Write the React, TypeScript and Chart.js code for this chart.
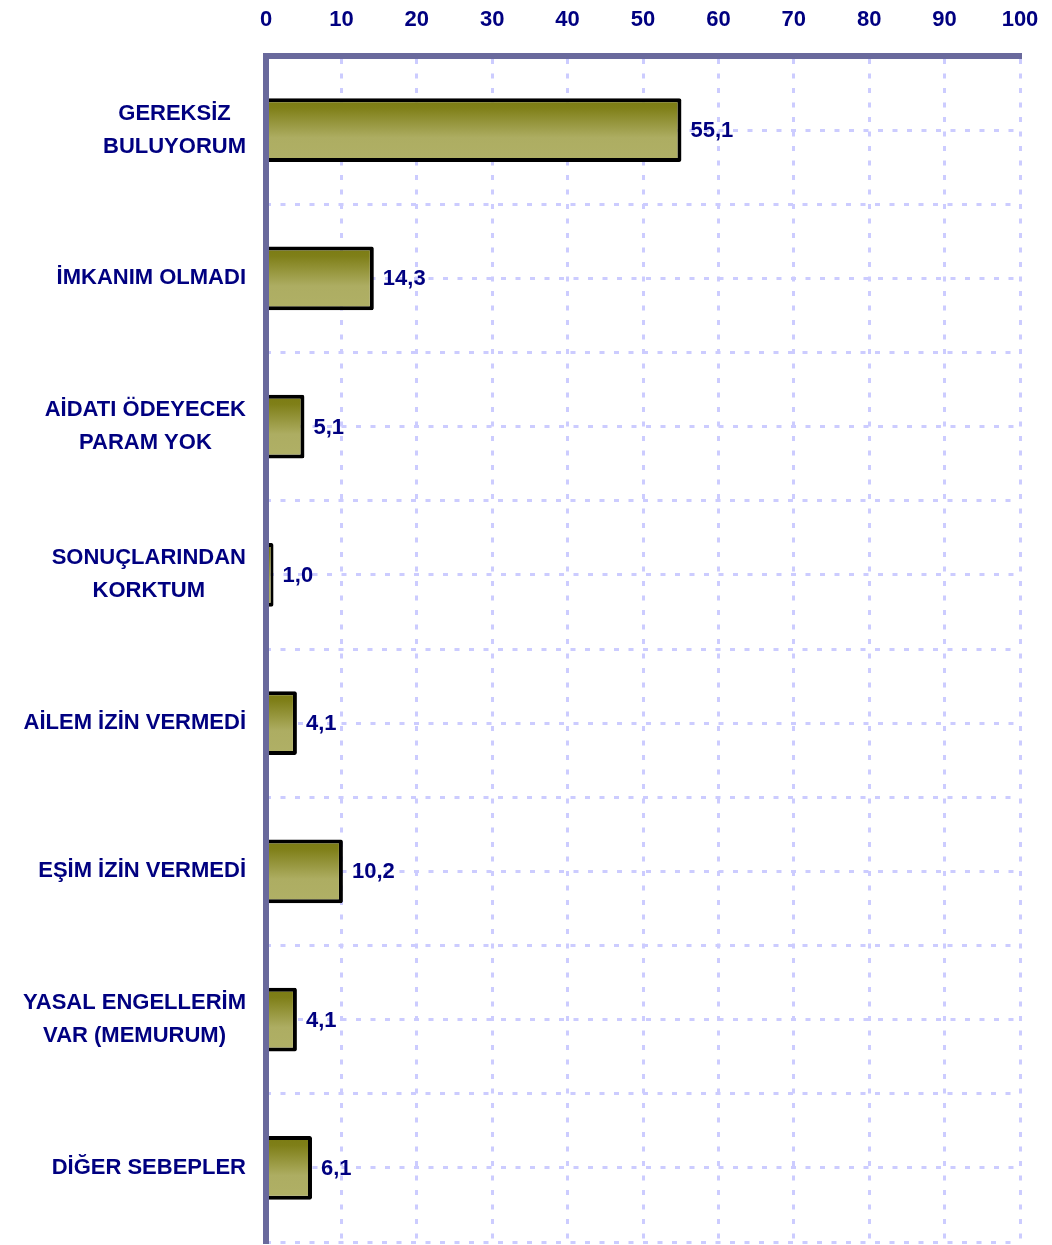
import React, { useEffect, useRef } from 'react';
import { Chart, registerables } from 'chart.js';

Chart.register(...registerables);

const categories: string[][] = [
  ['GEREKSİZ', 'BULUYORUM'],
  ['İMKANIM OLMADI'],
  ['AİDATI ÖDEYECEK', 'PARAM YOK'],
  ['SONUÇLARINDAN', 'KORKTUM'],
  ['AİLEM İZİN VERMEDİ'],
  ['EŞİM İZİN VERMEDİ'],
  ['YASAL ENGELLERİM', 'VAR (MEMURUM)'],
  ['DİĞER SEBEPLER'],
];
const values: number[] = [55.1, 14.3, 5.1, 1.0, 4.1, 10.2, 4.1, 6.1];
const xMin = 0;
const xMax = 100;
const xStep = 10;

const NAVY = '#000080';
const AXIS = '#69699c';
const GRID = '#ccccff';
const FONT = '"Liberation Sans", Arial, sans-serif';
const FONT_SIZE = 22;
const BAR_PCT = 0.43;

const fmt = (v: number) => v.toFixed(1).replace('.', ',');

const categoryLabelsPlugin = {
  id: 'categoryLabels',
  afterDraw(chart: any) {
    const ctx = chart.ctx;
    const y = chart.scales.y;
    const right = chart.chartArea.left - 20;
    const lh = 33;
    ctx.save();
    ctx.font = `bold ${FONT_SIZE}px ${FONT}`;
    ctx.fillStyle = NAVY;
    ctx.textAlign = 'center';
    ctx.textBaseline = 'middle';
    categories.forEach((lines, i) => {
      const c = y.getPixelForValue(i);
      const widest = Math.max(...lines.map((l) => ctx.measureText(l).width));
      const cx = right - widest / 2;
      lines.forEach((line, j) => {
        ctx.fillText(line, cx, c + (j - (lines.length - 1) / 2) * lh);
      });
    });
    ctx.restore();
  },
};

const valueLabelsPlugin = {
  id: 'valueLabels',
  afterDatasetsDraw(chart: any) {
    const ctx = chart.ctx;
    const meta = chart.getDatasetMeta(0);
    ctx.save();
    ctx.font = `bold ${FONT_SIZE}px ${FONT}`;
    ctx.fillStyle = NAVY;
    ctx.textAlign = 'left';
    ctx.textBaseline = 'middle';
    meta.data.forEach((el: any, i: number) => {
      ctx.fillText(fmt(values[i]), el.x + 9, el.y + 1);
    });
    ctx.restore();
  },
};

export default function App() {
  const ref = useRef<HTMLCanvasElement | null>(null);

  useEffect(() => {
    if (!ref.current) return;
    const labels = categories.map((c) => c.join(' '));
    const chart = new Chart(ref.current, {
      type: 'bar',
      data: {
        labels,
        datasets: [
          {
            data: values,
            backgroundColor: (c: any) => {
              if (c.type !== 'data') return '#9a9a45';
              const chartObj = c.chart;
              const ys = chartObj.scales.y;
              if (!ys || !chartObj.chartArea) return '#9a9a45';
              const center = ys.getPixelForValue(c.dataIndex);
              const h = ((ys.bottom - ys.top) / categories.length) * BAR_PCT / 2;
              const g = chartObj.ctx.createLinearGradient(0, center - h, 0, center + h);
              g.addColorStop(0, '#7b7b12');
              g.addColorStop(0.15, '#7f7f18');
              g.addColorStop(0.62, '#adad62');
              g.addColorStop(1, '#b0b066');
              return g;
            },
            borderColor: '#000000',
            borderWidth: 4,
            borderSkipped: 'start',
            borderRadius: 2,
            barPercentage: BAR_PCT,
            categoryPercentage: 1,
          },
        ],
      },
      options: {
        indexAxis: 'y',
        animation: false,
        responsive: false,
        maintainAspectRatio: false,
        layout: { padding: { left: 0, right: 32, top: 0, bottom: 3 } },
        plugins: {
          legend: { display: false },
          tooltip: { enabled: false },
          title: { display: false },
        },
        scales: {
          x: {
            type: 'linear',
            position: 'top',
            min: xMin,
            max: xMax,
            ticks: {
              stepSize: xStep,
              color: NAVY,
              font: { family: FONT, size: FONT_SIZE, weight: 'bold' },
              padding: 23,
            },
            grid: { color: GRID, lineWidth: 3, drawTicks: false },
            border: { display: true, color: AXIS, width: 6, dash: [5, 9.5], z: 1 },
            afterFit: (s: any) => {
              s.height = 56;
              s.paddingLeft = 0;
              s.paddingRight = 0;
            },
          },
          y: {
            type: 'category',
            position: 'left',
            offset: true,
            ticks: { display: false },
            grid: { color: GRID, lineWidth: 3, drawTicks: false, offset: false },
            border: { display: true, color: AXIS, width: 6, dash: [5, 9.5], z: 1 },
            afterFit: (s: any) => {
              s.width = 266;
            },
          },
          y2: {
            type: 'category',
            position: 'left',
            labels,
            offset: true,
            ticks: { display: false },
            grid: { color: GRID, lineWidth: 3, drawTicks: false, offset: true },
            border: { display: false, dash: [5, 9.5] },
            afterFit: (s: any) => {
              s.width = 0;
            },
          },
        },
      },
      plugins: [categoryLabelsPlugin, valueLabelsPlugin],
    } as any);
    return () => chart.destroy();
  }, []);

  return (
    <div style={{ position: 'absolute', left: 0, top: 0, width: 1052, height: 1245 }}>
      <canvas ref={ref} width={1052} height={1245} style={{ display: 'block' }} />
    </div>
  );
}
